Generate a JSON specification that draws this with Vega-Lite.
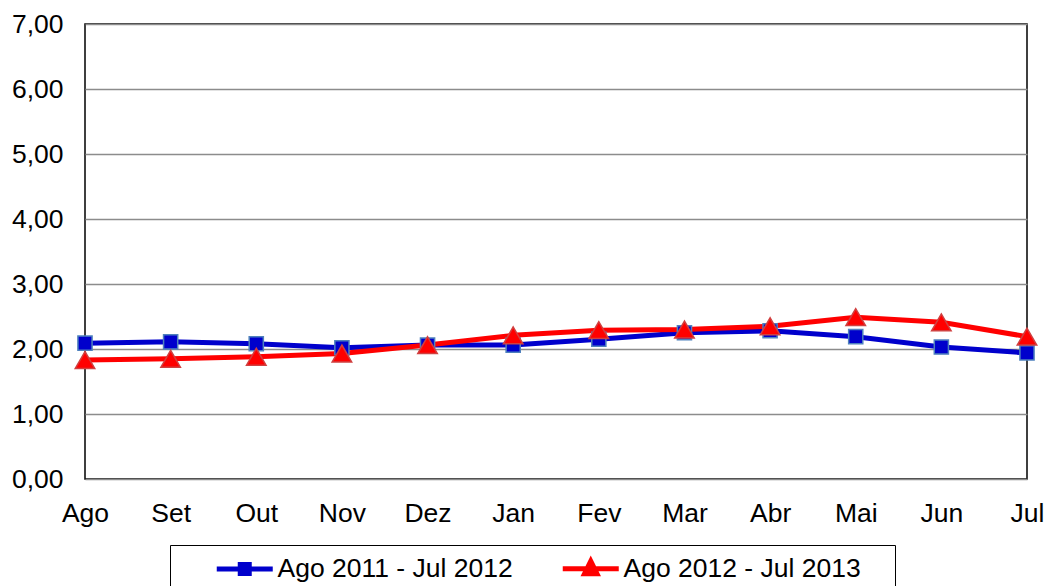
{
  "$schema": "https://vega.github.io/schema/vega-lite/v6.json",
  "width": 942,
  "height": 455,
  "autosize": "none",
  "padding": {"left": 85, "top": 24, "right": 19, "bottom": 107},
  "background": "white",
  "config": {
    "font": "Liberation Sans",
    "view": {"stroke": "black", "strokeWidth": 1.5}
  },
  "data": {
    "values": [
      {"month": "Ago", "series": "Ago 2011 - Jul 2012", "value": 2.09},
      {"month": "Set", "series": "Ago 2011 - Jul 2012", "value": 2.11},
      {"month": "Out", "series": "Ago 2011 - Jul 2012", "value": 2.08},
      {"month": "Nov", "series": "Ago 2011 - Jul 2012", "value": 2.02},
      {"month": "Dez", "series": "Ago 2011 - Jul 2012", "value": 2.06},
      {"month": "Jan", "series": "Ago 2011 - Jul 2012", "value": 2.06},
      {"month": "Fev", "series": "Ago 2011 - Jul 2012", "value": 2.15},
      {"month": "Mar", "series": "Ago 2011 - Jul 2012", "value": 2.25},
      {"month": "Abr", "series": "Ago 2011 - Jul 2012", "value": 2.28},
      {"month": "Mai", "series": "Ago 2011 - Jul 2012", "value": 2.19},
      {"month": "Jun", "series": "Ago 2011 - Jul 2012", "value": 2.03},
      {"month": "Jul", "series": "Ago 2011 - Jul 2012", "value": 1.94},
      {"month": "Ago", "series": "Ago 2012 - Jul 2013", "value": 1.83},
      {"month": "Set", "series": "Ago 2012 - Jul 2013", "value": 1.85},
      {"month": "Out", "series": "Ago 2012 - Jul 2013", "value": 1.88},
      {"month": "Nov", "series": "Ago 2012 - Jul 2013", "value": 1.93},
      {"month": "Dez", "series": "Ago 2012 - Jul 2013", "value": 2.06},
      {"month": "Jan", "series": "Ago 2012 - Jul 2013", "value": 2.21},
      {"month": "Fev", "series": "Ago 2012 - Jul 2013", "value": 2.29},
      {"month": "Mar", "series": "Ago 2012 - Jul 2013", "value": 2.30},
      {"month": "Abr", "series": "Ago 2012 - Jul 2013", "value": 2.35},
      {"month": "Mai", "series": "Ago 2012 - Jul 2013", "value": 2.49},
      {"month": "Jun", "series": "Ago 2012 - Jul 2013", "value": 2.41},
      {"month": "Jul", "series": "Ago 2012 - Jul 2013", "value": 2.19}
    ]
  },
  "encoding": {
    "x": {
      "field": "month",
      "type": "ordinal",
      "sort": ["Ago", "Set", "Out", "Nov", "Dez", "Jan", "Fev", "Mar", "Abr", "Mai", "Jun", "Jul"],
      "scale": {"type": "point", "padding": 0},
      "axis": {
        "title": null,
        "labelAngle": 0,
        "labelFontSize": 26.5,
        "labelColor": "black",
        "labelPadding": 21,
        "ticks": false,
        "domain": false,
        "grid": false
      }
    },
    "y": {
      "field": "value",
      "type": "quantitative",
      "scale": {"domain": [0, 7], "nice": false, "zero": true},
      "axis": {
        "title": null,
        "values": [0, 1, 2, 3, 4, 5, 6, 7],
        "labelExpr": "replace(format(datum.value, '.2f'), '.', ',')",
        "labelFontSize": 26.5,
        "labelColor": "black",
        "labelPadding": 22,
        "ticks": false,
        "domain": false,
        "grid": true,
        "gridColor": "#8c8c8c",
        "gridWidth": 1.5
      }
    }
  },
  "layer": [
    {
      "mark": {"type": "point", "filled": false, "opacity": 0, "size": 400, "strokeWidth": 5},
      "encoding": {
        "color": {
          "field": "series",
          "type": "nominal",
          "scale": {"domain": ["Ago 2011 - Jul 2012", "Ago 2012 - Jul 2013"], "range": ["#0000CC", "#FF0000"]},
          "legend": {
            "orient": "none",
            "legendX": 85,
            "legendY": 521,
            "direction": "horizontal",
            "title": "\u00a0",
            "titleOrient": "right",
            "titleFontSize": 26.5,
            "titlePadding": 24,
            "labelFontSize": 26.5,
            "labelFont": "Liberation Sans",
            "labelColor": "black",
            "labelLimit": 0,
            "strokeColor": "black",
            "padding": 10,
            "symbolSize": 400,
            "symbolStrokeWidth": 5,
            "symbolOpacity": 1,
            "symbolOffset": 51.5,
            "labelOffset": 19.5,
            "columnPadding": 13
          }
        },
        "shape": {
          "field": "series",
          "type": "nominal",
          "scale": {
            "domain": ["Ago 2011 - Jul 2012", "Ago 2012 - Jul 2013"],
            "range": ["M-2.8,0H2.8M-0.45,-0.45H0.45V0.45H-0.45Z", "M-2.8,0H2.8M0,-0.75L0.62,0.5L-0.62,0.5Z"]
          }
        }
      }
    },
    {
      "mark": {"type": "line", "strokeWidth": 5},
      "encoding": {
        "stroke": {
          "field": "series",
          "type": "nominal",
          "scale": {"domain": ["Ago 2011 - Jul 2012", "Ago 2012 - Jul 2013"], "range": ["#0000CC", "#FF0000"]},
          "legend": null
        }
      }
    },
    {
      "transform": [{"filter": "datum.series === 'Ago 2011 - Jul 2012'"}],
      "mark": {"type": "point", "shape": "square", "size": 200, "filled": true, "opacity": 1, "fill": "#0000CC", "stroke": "#4F81BD", "strokeWidth": 1.5}
    },
    {
      "transform": [{"filter": "datum.series === 'Ago 2012 - Jul 2013'"}],
      "mark": {"type": "point", "shape": "triangle-up", "size": 380, "filled": true, "opacity": 1, "fill": "#FF0000", "stroke": "#D04040", "strokeWidth": 1.5}
    }
  ]
}
